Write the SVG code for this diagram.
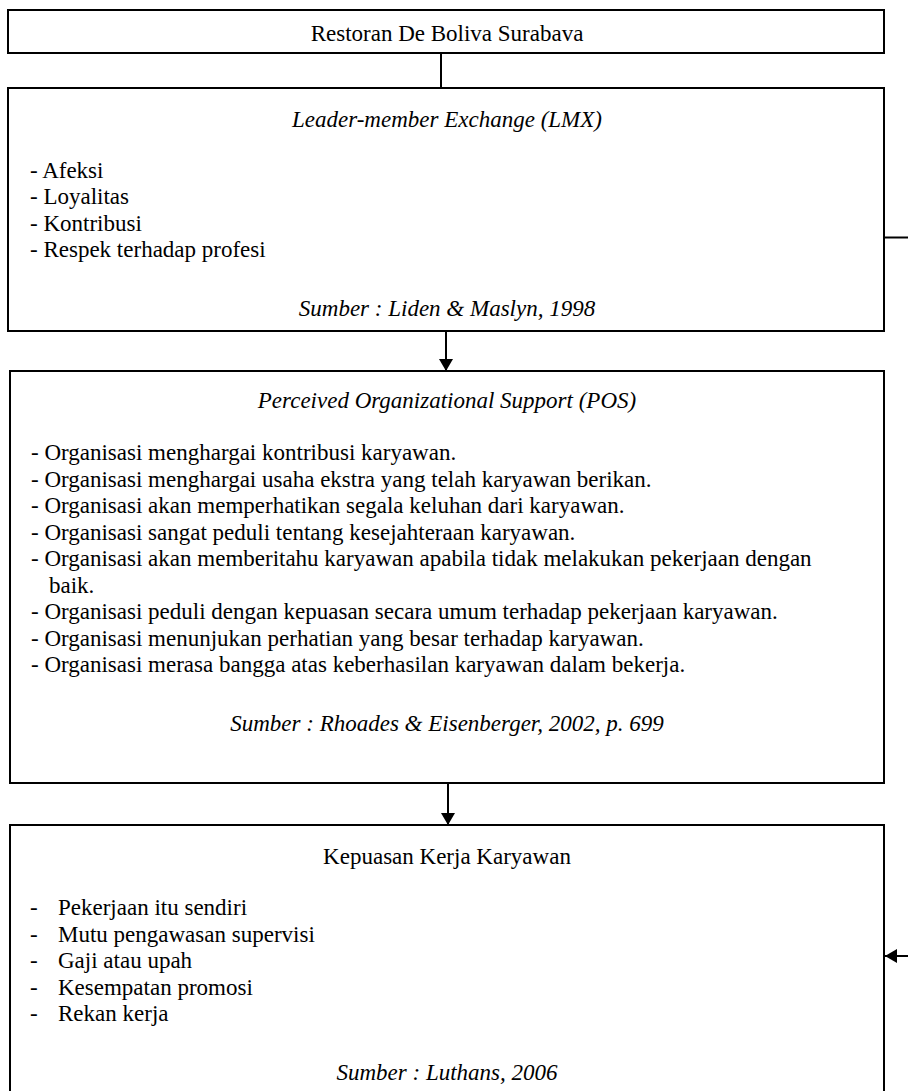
<svg xmlns="http://www.w3.org/2000/svg" width="908" height="1091" viewBox="0 0 908 1091">
<style>
.box{fill:#fff;stroke:#000;stroke-width:2}
.t{font-family:"Liberation Serif","Times New Roman",serif;font-size:23px;fill:#000}
.c{text-anchor:middle}
.i{font-style:italic}
.line{stroke:#000;stroke-width:2;fill:none}
</style>
<defs>
<marker id="ah" markerWidth="12" markerHeight="14" refX="12" refY="7" orient="auto" markerUnits="userSpaceOnUse">
<path d="M0,0 L12,7 L0,14 Z" fill="#000"/>
</marker>
</defs>
<g id="connectors">
<line class="line" x1="441" y1="53" x2="441" y2="88"/>
<line class="line" x1="446" y1="331" x2="446" y2="371" marker-end="url(#ah)"/>
<line class="line" x1="448" y1="783" x2="448" y2="825" marker-end="url(#ah)"/>
<line class="line" x1="884" y1="237.5" x2="908" y2="237.5"/>
<line class="line" x1="908" y1="956" x2="885" y2="956" marker-end="url(#ah)"/>
</g>
<g id="node-restoran">
<rect class="box" x="8" y="10" width="876" height="43"/>
<text class="t c" x="447" y="41">Restoran De Boliva Surabava</text>
</g>
<g id="node-lmx">
<rect class="box" x="8" y="88" width="876" height="243"/>
<text class="t c i" x="447" y="127">Leader-member Exchange (LMX)</text>
<text class="t" x="30" y="177.5">- Afeksi</text>
<text class="t" x="30" y="204">- Loyalitas</text>
<text class="t" x="30" y="230.5">- Kontribusi</text>
<text class="t" x="30" y="257">- Respek terhadap profesi</text>
<text class="t c i" x="447" y="316">Sumber : Liden &amp; Maslyn, 1998</text>
</g>
<g id="node-pos">
<rect class="box" x="10" y="371" width="874" height="412"/>
<text class="t c i" x="447" y="408">Perceived Organizational Support (POS)</text>
<text class="t" x="31" y="460">- Organisasi menghargai kontribusi karyawan.</text>
<text class="t" x="31" y="486.5">- Organisasi menghargai usaha ekstra yang telah karyawan berikan.</text>
<text class="t" x="31" y="513">- Organisasi akan memperhatikan segala keluhan dari karyawan.</text>
<text class="t" x="31" y="539.5">- Organisasi sangat peduli tentang kesejahteraan karyawan.</text>
<text class="t" x="31" y="566">- Organisasi akan memberitahu karyawan apabila tidak melakukan pekerjaan dengan</text>
<text class="t" x="49" y="592.5">baik.</text>
<text class="t" x="31" y="619">- Organisasi peduli dengan kepuasan secara umum terhadap pekerjaan karyawan.</text>
<text class="t" x="31" y="645.5">- Organisasi menunjukan perhatian yang besar terhadap karyawan.</text>
<text class="t" x="31" y="672">- Organisasi merasa bangga atas keberhasilan karyawan dalam bekerja.</text>
<text class="t c i" x="447" y="731">Sumber : Rhoades &amp; Eisenberger, 2002, p. 699</text>
</g>
<g id="node-kepuasan">
<rect class="box" x="10" y="825" width="874" height="280"/>
<text class="t c" x="447" y="864">Kepuasan Kerja Karyawan</text>
<text class="t" x="30" y="915">-</text><text class="t" x="58" y="915">Pekerjaan itu sendiri</text>
<text class="t" x="30" y="941.5">-</text><text class="t" x="58" y="941.5">Mutu pengawasan supervisi</text>
<text class="t" x="30" y="968">-</text><text class="t" x="58" y="968">Gaji atau upah</text>
<text class="t" x="30" y="994.5">-</text><text class="t" x="58" y="994.5">Kesempatan promosi</text>
<text class="t" x="30" y="1021">-</text><text class="t" x="58" y="1021">Rekan kerja</text>
<text class="t c i" x="447" y="1080">Sumber : Luthans, 2006</text>
</g>
</svg>
